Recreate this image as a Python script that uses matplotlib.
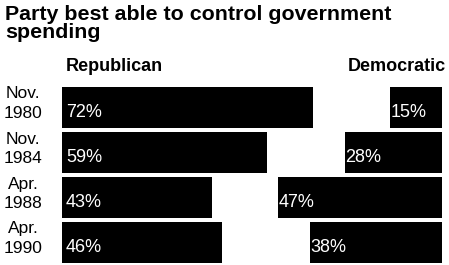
import matplotlib
matplotlib.use("Agg")
import matplotlib.pyplot as plt

categories = ["Nov.\n1980", "Nov.\n1984", "Apr.\n1988", "Apr.\n1990"]
republican = [72, 59, 43, 46]
democratic = [15, 28, 47, 38]
title = "Party best able to control government\nspending"

W, H = 449, 265
PXP = 3.48  # pixels per percent
plt.rcParams['font.family'] = ['Liberation Sans', 'DejaVu Sans']

fig = plt.figure(figsize=(W / 100, H / 100), dpi=100)

ax_bottom = 0.0
ax_height = 180 / H
rep_left = 62
axR = fig.add_axes([rep_left / W, ax_bottom, (W - rep_left) / W, ax_height])
dem_right = 442
axD = fig.add_axes([0, ax_bottom, dem_right / W, ax_height])

ys = list(range(len(categories)))
for ax in (axR, axD):
    ax.set_ylim(len(categories) - 0.5, -0.5)
    ax.axis('off')
    ax.patch.set_alpha(0)
axR.set_xlim(0, (W - rep_left) / PXP)
axD.set_xlim(dem_right / PXP, 0)

axR.barh(ys, republican, height=0.93, color='black')
axD.barh(ys, democratic, height=0.93, color='black')

for y, v in zip(ys, republican):
    axR.text(1.1, y + 0.12, f"{v}%", color='white', fontsize=13, ha='left', va='center')
for y, v in zip(ys, democratic):
    axD.text(v - 0.1, y + 0.12, f"{v}%", color='white', fontsize=13, ha='left', va='center')

for y, c in zip(ys, categories):
    axD.text(dem_right / PXP - 23 / PXP, y - 0.08, c, fontsize=12.5, ha='center', va='center',
             linespacing=1.4)

fig.text(5 / W, 1 - 5 / H, title, fontsize=15.4, fontweight='bold', ha='left', va='top',
         linespacing=0.92)
fig.text(66 / W, 1 - 67 / H, "Republican", fontsize=13, fontweight='bold', ha='left', va='center')
fig.text(446 / W, 1 - 67 / H, "Democratic", fontsize=13, fontweight='bold', ha='right', va='center')

fig.savefig("out.png", dpi=100)
